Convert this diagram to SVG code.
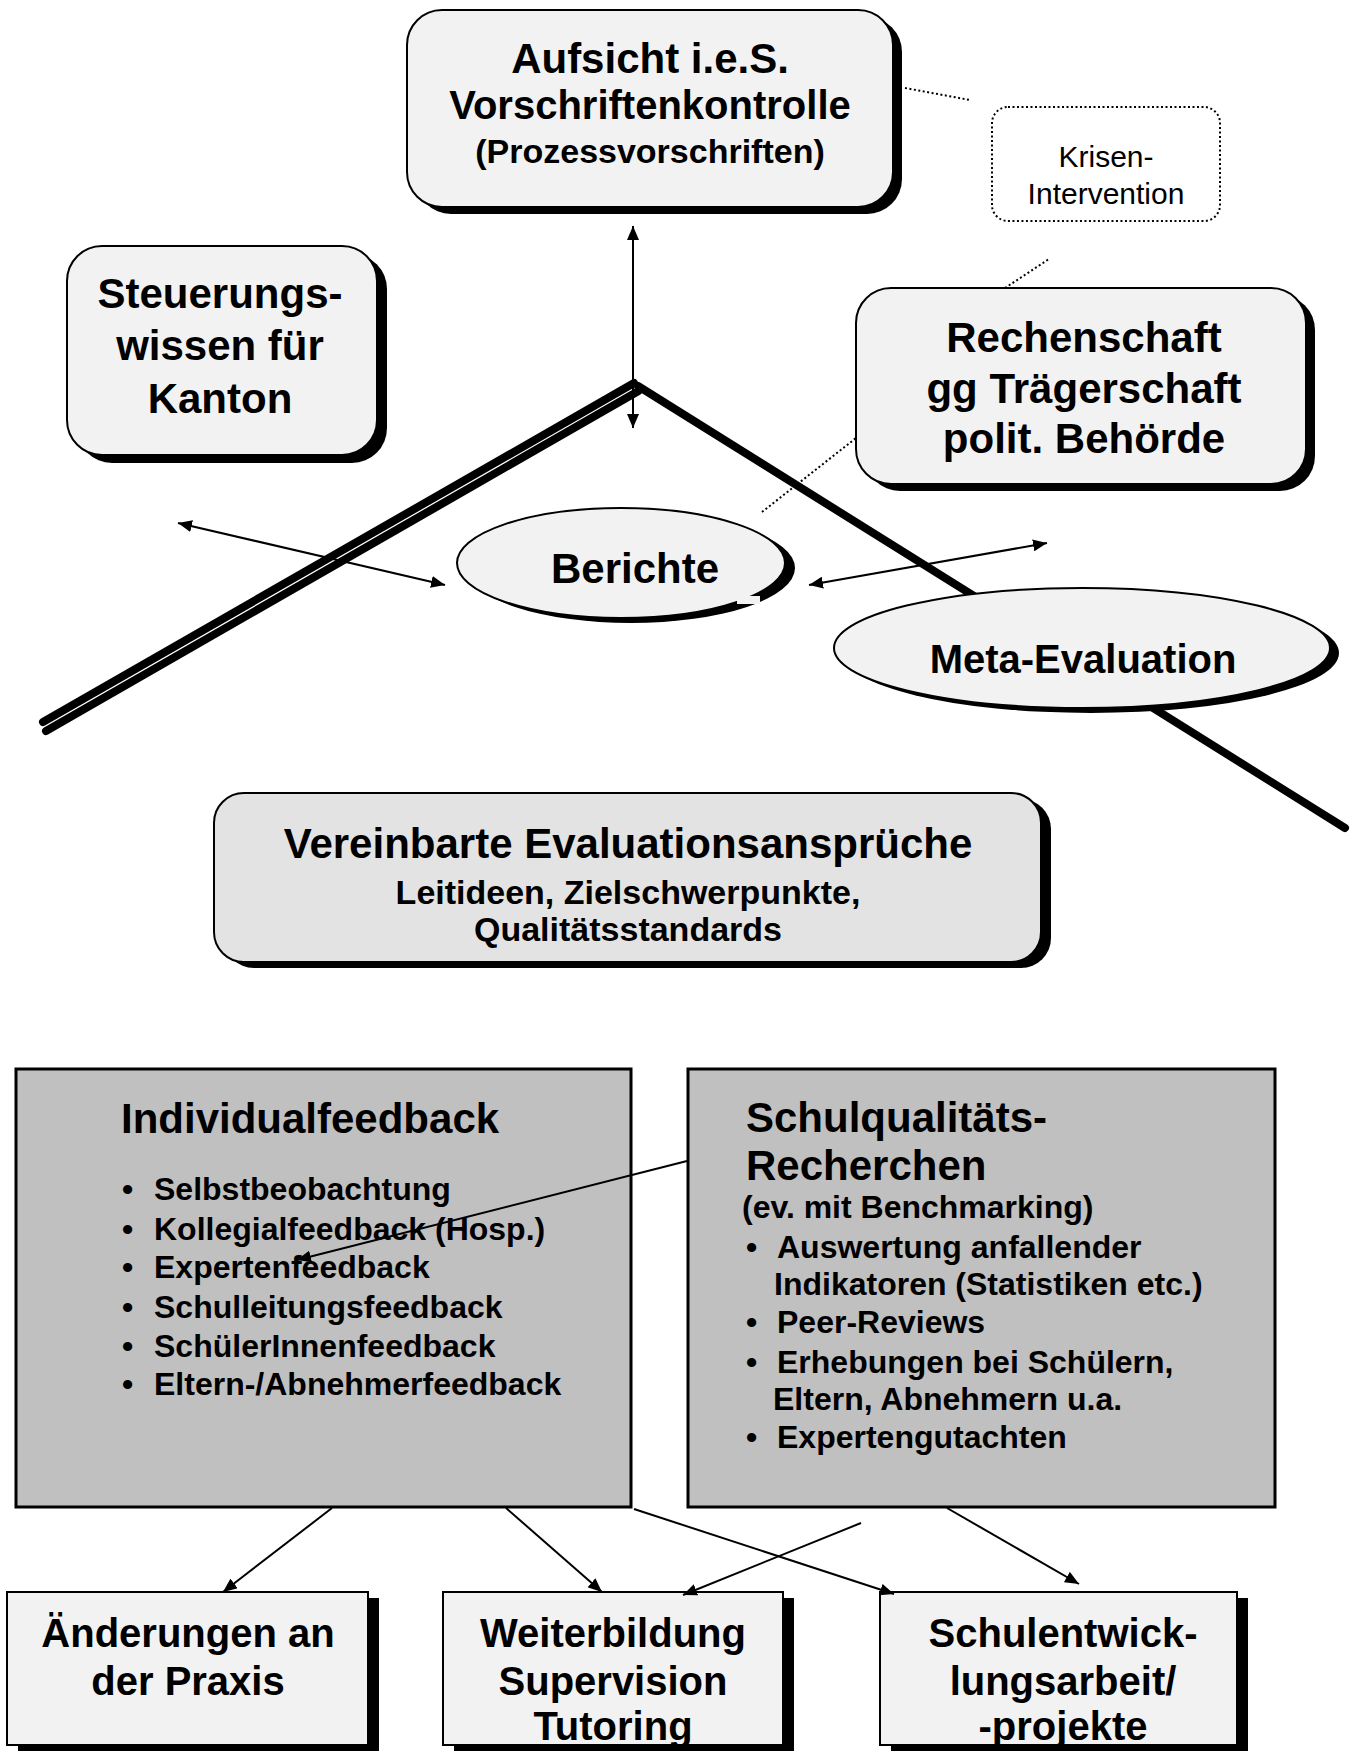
<svg xmlns="http://www.w3.org/2000/svg" width="1357" height="1751" viewBox="0 0 1357 1751">
<defs>
<style>
text{font-family:"Liberation Sans",Arial,sans-serif;fill:#000}
.b{font-weight:bold}
.c{text-anchor:middle}
.box{fill:#f2f2f2;stroke:#000;stroke-width:2}
.shd{fill:#000}
.gbox{fill:#c0c0c0;stroke:#000;stroke-width:3}
.dot{stroke:#000;stroke-width:2;stroke-dasharray:2 2.5;fill:none}
.arr{stroke:#000;stroke-width:2;fill:none}
.vl{stroke:#000;stroke-width:8;stroke-linecap:round;fill:none}
</style>
<marker id="ah" markerUnits="userSpaceOnUse" markerWidth="14" markerHeight="12" viewBox="0 0 14 12" refX="14" refY="6" orient="auto-start-reverse">
<path d="M0,0 L14,6 L0,12 z" fill="#000"/>
</marker>
</defs>
<rect width="1357" height="1751" fill="#fff"/>

<g id="vlines">
<line class="vl" x1="634" y1="383" x2="43" y2="722"/>
<line class="vl" x1="638.5" y1="391" x2="46" y2="731"/>
<line class="vl" x1="638" y1="386" x2="1345" y2="828"/>
</g>

<g id="aufsicht">
<rect class="shd" x="416" y="17" width="486" height="197" rx="35"/>
<rect class="box" x="407" y="10" width="486" height="197" rx="35"/>
<text class="b c" x="650" y="73" font-size="42">Aufsicht i.e.S.</text>
<text class="b c" x="650" y="119" font-size="40">Vorschriftenkontrolle</text>
<text class="b c" x="650" y="163" font-size="34">(Prozessvorschriften)</text>
</g>

<g id="krisen">
<rect x="992" y="107" width="228" height="114" rx="16" fill="#f2f2f2" class="dot"/>
<text class="c" x="1106" y="167" font-size="30">Krisen-</text>
<text class="c" x="1106" y="204" font-size="30">Intervention</text>
</g>

<g id="steuerung">
<rect class="shd" x="77" y="254" width="310" height="209" rx="35"/>
<rect class="box" x="67" y="246" width="310" height="209" rx="35"/>
<text class="b c" x="220" y="308" font-size="42">Steuerungs-</text>
<text class="b c" x="220" y="360" font-size="42">wissen für</text>
<text class="b c" x="220" y="413" font-size="42">Kanton</text>
</g>

<g id="rechenschaft">
<rect class="shd" x="865" y="295" width="450" height="196" rx="35"/>
<rect class="box" x="856" y="288" width="450" height="196" rx="35"/>
<text class="b c" x="1084" y="352" font-size="42">Rechenschaft</text>
<text class="b c" x="1084" y="403" font-size="42">gg Trägerschaft</text>
<text class="b c" x="1084" y="453" font-size="42">polit. Behörde</text>
</g>

<g id="berichte">
<ellipse class="shd" cx="631" cy="568" rx="164" ry="55"/>
<ellipse class="box" cx="621" cy="563" rx="164" ry="55"/>
<rect x="737" y="596" width="23" height="8" fill="#f2f2f2"/>
<text class="b c" x="635" y="583" font-size="42">Berichte</text>
</g>

<g id="meta">
<ellipse class="shd" cx="1091" cy="653" rx="248" ry="60"/>
<ellipse class="box" cx="1082" cy="648" rx="248" ry="60"/>
<text class="b c" x="1083" y="673" font-size="40">Meta-Evaluation</text>
</g>

<g id="vereinbarte">
<rect class="shd" x="224" y="799" width="827" height="169" rx="30"/>
<rect x="214" y="793" width="827" height="169" rx="30" fill="#e3e3e3" stroke="#000" stroke-width="2"/>
<text class="b c" x="628" y="858" font-size="42">Vereinbarte Evaluationsansprüche</text>
<text class="b c" x="628" y="904" font-size="34">Leitideen, Zielschwerpunkte,</text>
<text class="b c" x="628" y="941" font-size="34">Qualitätsstandards</text>
</g>

<g id="individualfeedback">
<rect class="gbox" x="16" y="1069" width="615" height="438"/>
<text class="b" x="121" y="1133" font-size="42">Individualfeedback</text>
<g font-size="32" class="b">
<text x="122" y="1200">•</text><text x="154" y="1200">Selbstbeobachtung</text>
<text x="122" y="1240">•</text><text x="154" y="1240">Kollegialfeedback (Hosp.)</text>
<text x="122" y="1278">•</text><text x="154" y="1278">Expertenfeedback</text>
<text x="122" y="1318">•</text><text x="154" y="1318">Schulleitungsfeedback</text>
<text x="122" y="1357">•</text><text x="154" y="1357">SchülerInnenfeedback</text>
<text x="122" y="1395">•</text><text x="154" y="1395">Eltern-/Abnehmerfeedback</text>
</g>
</g>

<g id="schulqualitaet">
<rect class="gbox" x="688" y="1069" width="587" height="438"/>
<text class="b" x="746" y="1132" font-size="42">Schulqualitäts-</text>
<text class="b" x="746" y="1180" font-size="42">Recherchen</text>
<g font-size="32" class="b">
<text x="742" y="1218">(ev. mit Benchmarking)</text>
<text x="746" y="1258">•</text><text x="777" y="1258">Auswertung anfallender</text>
<text x="774" y="1295">Indikatoren (Statistiken etc.)</text>
<text x="746" y="1333">•</text><text x="777" y="1333">Peer-Reviews</text>
<text x="746" y="1373">•</text><text x="777" y="1373">Erhebungen bei Schülern,</text>
<text x="773" y="1410">Eltern, Abnehmern u.a.</text>
<text x="746" y="1448">•</text><text x="777" y="1448">Expertengutachten</text>
</g>
</g>

<g id="aenderungen">
<rect class="shd" x="18" y="1598" width="361" height="153"/>
<rect class="box" x="7" y="1592" width="361" height="153"/>
<text class="b c" x="188" y="1647" font-size="40">Änderungen an</text>
<text class="b c" x="188" y="1695" font-size="40">der Praxis</text>
</g>

<g id="weiterbildung">
<rect class="shd" x="454" y="1598" width="340" height="153"/>
<rect class="box" x="443" y="1592" width="340" height="153"/>
<text class="b c" x="613" y="1647" font-size="40">Weiterbildung</text>
<text class="b c" x="613" y="1695" font-size="40">Supervision</text>
<text class="b c" x="613" y="1740" font-size="40">Tutoring</text>
</g>

<g id="schulentwicklung">
<rect class="shd" x="891" y="1598" width="357" height="153"/>
<rect class="box" x="880" y="1592" width="357" height="153"/>
<text class="b c" x="1063" y="1647" font-size="40">Schulentwick-</text>
<text class="b c" x="1063" y="1695" font-size="40">lungsarbeit/</text>
<text class="b c" x="1063" y="1740" font-size="40">-projekte</text>
</g>

<g id="connectors">
<line class="arr" x1="633" y1="226" x2="633" y2="428" marker-start="url(#ah)" marker-end="url(#ah)"/>
<line class="arr" x1="178" y1="523" x2="445" y2="585" marker-start="url(#ah)" marker-end="url(#ah)"/>
<line class="arr" x1="809" y1="585" x2="1047" y2="543" marker-start="url(#ah)" marker-end="url(#ah)"/>
<line class="dot" x1="905" y1="88" x2="970" y2="100"/>
<line class="dot" x1="1005" y1="288" x2="1049" y2="259"/>
<line class="dot" x1="762" y1="512" x2="856" y2="438"/>
<line class="arr" x1="687" y1="1161" x2="297" y2="1260" stroke-width="1.5" marker-end="url(#ah)"/>
<line class="arr" x1="332" y1="1508" x2="223" y2="1592" stroke-width="1.5" marker-end="url(#ah)"/>
<line class="arr" x1="506" y1="1508" x2="602" y2="1592" stroke-width="1.5" marker-end="url(#ah)"/>
<line class="arr" x1="634" y1="1509" x2="894" y2="1594" stroke-width="1.5" marker-end="url(#ah)"/>
<line class="arr" x1="861" y1="1523" x2="683" y2="1595" stroke-width="1.5" marker-end="url(#ah)"/>
<line class="arr" x1="947" y1="1508" x2="1079" y2="1584" stroke-width="1.5" marker-end="url(#ah)"/>
</g>
</svg>
